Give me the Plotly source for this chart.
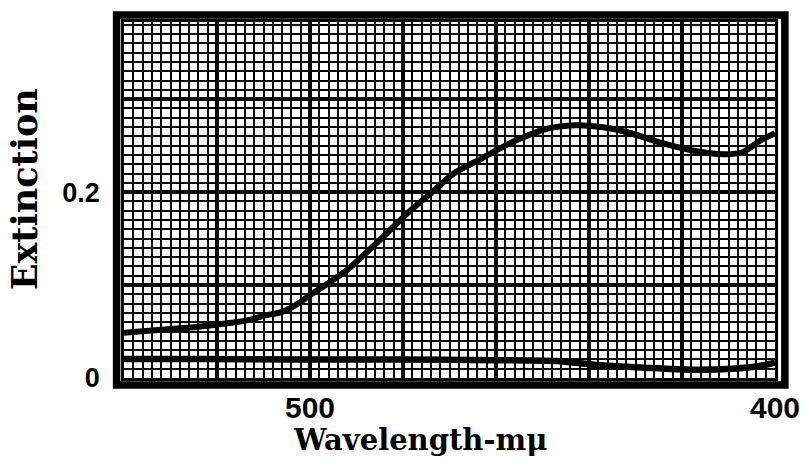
import plotly.graph_objects as go

# ---- data ----
upper_wavelength = [540, 532, 524, 517, 513, 510, 506, 503, 500.5, 496, 492, 485, 479,
                    474, 469, 463, 457, 453, 449.5, 443, 437, 431, 425, 418, 411, 407, 403, 400]
upper_extinction = [0.0486, 0.0518, 0.0551, 0.0594, 0.0626, 0.0669, 0.0712, 0.0787, 0.0873,
                    0.1023, 0.1163, 0.1485, 0.1774, 0.1989, 0.2203, 0.2364, 0.2525, 0.2611,
                    0.2676, 0.2719, 0.2697, 0.2633, 0.2537, 0.2451, 0.2408, 0.2429, 0.2558, 0.2633]

lower_wavelength = [540, 524, 503, 481, 460, 447, 439, 428, 418, 409, 403, 400]
lower_extinction = [0.0205, 0.0205, 0.0200, 0.0200, 0.0192, 0.0182, 0.0143, 0.0111,
                    0.0089, 0.0100, 0.0132, 0.0164]

x_major = [540, 520, 500, 480, 460, 440, 420, 400]
x_labels = {500: "500", 400: "400"}
y_major = [0.0, 0.1, 0.2, 0.3]
y_labels = {0.0: "0", 0.2: "0.2"}

x_range = [540, 400]
y_range = [0, 0.383]

# ---- layout geometry (pixels) ----
W, H = 812, 468
L, R, T, B = 124, 783, 22, 378
pw, ph = R - L, B - T


def px_to_paper_x(px):
    return (px - L) / pw


def px_to_paper_y(py):
    return (B - py) / ph


fig = go.Figure()
for xs, ys, w in [(upper_wavelength, upper_extinction, 6), (lower_wavelength, lower_extinction, 6.5)]:
    fig.add_trace(go.Scatter(x=xs, y=ys, mode="lines",
                             line=dict(color="black", width=w, shape="spline", smoothing=0.8),
                             showlegend=False, hoverinfo="skip"))

fig.update_layout(
    width=W, height=H,
    margin=dict(l=L, r=W - R, t=T, b=H - B, pad=0),
    paper_bgcolor="white", plot_bgcolor="white",
    showlegend=False,
)

fig.update_xaxes(
    range=x_range, tickvals=x_major,
    ticktext=[x_labels.get(v, "") for v in x_major],
    showgrid=True, gridcolor="black", gridwidth=3.5,
    minor=dict(dtick=2, tick0=400, showgrid=True, gridcolor="black", gridwidth=1.7),
    showline=True, linecolor="black", linewidth=2.5, mirror=True,
    ticks="", ticklabelstandoff=1,
    tickfont=dict(family="Liberation Sans", size=30, color="black", weight="bold"),
    zeroline=False,
)
fig.update_yaxes(
    range=y_range, tickvals=y_major,
    ticktext=[y_labels.get(v, "") for v in y_major],
    showgrid=True, gridcolor="black", gridwidth=3.5,
    minor=dict(dtick=0.01, tick0=0, showgrid=True, gridcolor="black", gridwidth=1.7),
    showline=True, linecolor="black", linewidth=2.5, mirror=True,
    ticks="", ticklabelstandoff=16,
    tickfont=dict(family="Liberation Sans", size=27, color="black", weight="bold"),
    zeroline=False,
)

# thick outer frame
fig.add_shape(type="rect", xref="paper", yref="paper",
              x0=px_to_paper_x(116.5), x1=px_to_paper_x(793),
              y0=px_to_paper_y(385), y1=px_to_paper_y(15),
              line=dict(color="black", width=7.5), fillcolor="rgba(0,0,0,0)", layer="above")

# axis titles
fig.add_annotation(text="Wavelength-m\u03bc", xref="paper", yref="paper",
                   x=px_to_paper_x(424), y=px_to_paper_y(440),
                   xanchor="center", yanchor="middle", showarrow=False,
                   font=dict(family="DejaVu Serif", size=29, color="black", weight="bold"))
fig.add_annotation(text="Extinction", xref="paper", yref="paper",
                   x=px_to_paper_x(23), y=px_to_paper_y(189), textangle=-90,
                   xanchor="center", yanchor="middle", showarrow=False,
                   font=dict(family="DejaVu Serif", size=35, color="black", weight="bold"))

fig.write_html("out.html", config={"displayModeBar": False},
               post_script="document.body.style.margin='0';")
